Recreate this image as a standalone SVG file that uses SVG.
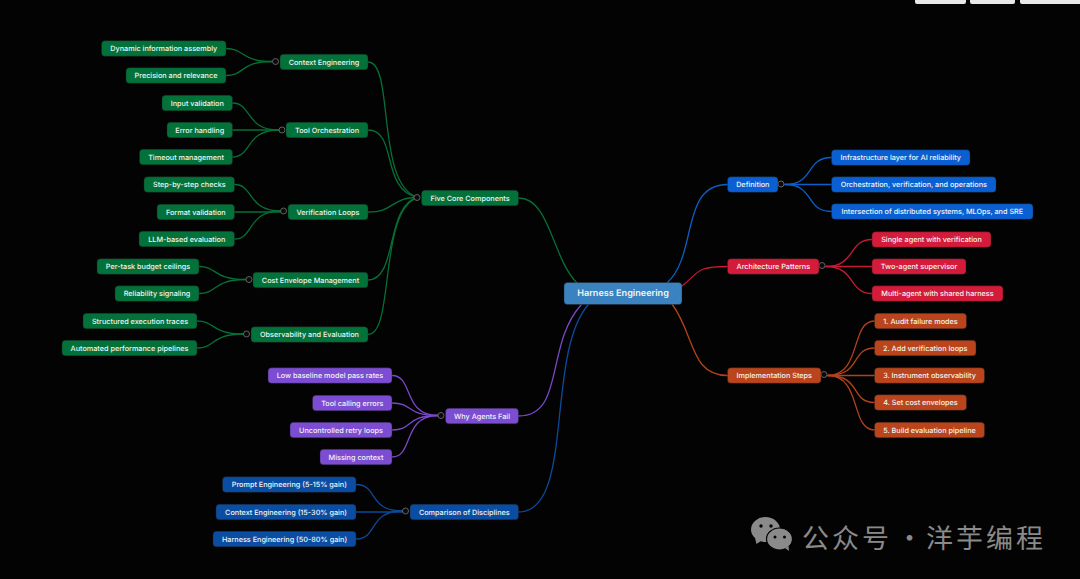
<svg xmlns="http://www.w3.org/2000/svg" width="1080" height="579" viewBox="0 0 1080 579">
<style>
text{font-family:Inter,"Liberation Sans",sans-serif;font-size:7.25px;font-weight:500;fill:#f2f5f2;text-anchor:middle;dominant-baseline:central;text-rendering:geometricPrecision}
rect.n{rx:3.5px;ry:3.5px;stroke:#222;stroke-width:.4px}
.hub{fill:#0a0a0a;stroke:#777;stroke-width:.8}
.l{fill:none;stroke-width:1.3;stroke-linecap:round}
.g{stroke:#067036}.gf{fill:#03713a}
.b{stroke:#0c5fc8}.bf{fill:#0a60d2}
.r{stroke:#c51a35}.rf{fill:#d41b3a}
.o{stroke:#b3421c}.of{fill:#ba441c}
.p{stroke:#7a48c8}.pf{fill:#7c4cd2}
.d{stroke:#0c4a9c}.df{fill:#0b4da2}
text.wm{font-family:"Noto Sans CJK SC",sans-serif;font-size:27px;font-weight:400;fill:#8a8a8a;text-anchor:start;letter-spacing:3px}
</style>
<rect width="1080" height="579" fill="#030303"/>
<g id="window-tabs" fill="#e8e8e8"><rect x="915" y="-6" width="51" height="10" rx="2"/><rect x="970" y="-6" width="45" height="10" rx="2"/><rect x="1020" y="-6" width="62" height="10" rx="2"/></g>
<g id="connectors">
<g class="l g">
<path d="M518.5 198C550 198 552 258 577 283"/>
<path d="M368 62C395 62 375 185 418 197.5"/>
<path d="M368 130C398 130 380 190 418 197.5"/>
<path d="M368 212C395 212 390 197.5 418 197.5"/>
<path d="M368 280C398 280 385 205 418 197.5"/>
<path d="M368 334.5C395 334.5 378 210 418 197.5"/>
<path d="M226 48.5C245 48.5 240 61.5 272 61.5"/>
<path d="M226 75.5C245 75.5 240 61.5 272 61.5"/>
<path d="M232.5 103C252 103 245 130 279 130"/>
<path d="M232.5 130H279"/>
<path d="M232.5 157C252 157 245 130 279 130"/>
<path d="M234.5 184.5C254 184.5 247 211 280.500 211"/>
<path d="M234.5 212H280.500"/>
<path d="M234.5 239C254 239 247 211 280.500 211"/>
<path d="M199 266.5C218 266.5 212 279.500 246 279.500"/>
<path d="M199 293.5C218 293.5 212 279.500 246 279.500"/>
<path d="M197 321C216 321 210 334 243.500 334"/>
<path d="M197 348C216 348 210 334 243.500 334"/>
</g>
<g class="l b">
<path d="M727.5 184.5C680 184.500 698 255 667 283"/>
<path d="M785 184.5C815 184.500 805 157.500 831.500 157.500"/>
<path d="M785 184.500H831.500"/>
<path d="M785 184.5C815 184.500 805 211.500 831.500 211.500"/>
</g>
<g class="l r">
<path d="M727.5 266.500C695 266.500 700 272 682 286"/>
<path d="M826 266.500C856 266.500 848 239.500 872 239.500"/>
<path d="M826 266.500H872"/>
<path d="M826 266.500C856 266.500 848 293.500 872 293.500"/>
</g>
<g class="l o">
<path d="M727.5 375.500C690 375.500 695 335 672 304"/>
<path d="M828 375.500C862 375.500 850 321 874.500 321"/>
<path d="M828 375.500C862 375.500 850 348 874.500 348"/>
<path d="M828 375.500H874.500"/>
<path d="M828 375.500C862 375.500 850 402.500 874.500 402.500"/>
<path d="M828 375.500C862 375.500 850 430 874.500 430"/>
</g>
<g class="l p">
<path d="M518.5 416C565 416 545 345 581 305"/>
<path d="M392 375.500C414 375.500 402 415.500 438 415.500"/>
<path d="M392 403C414 403 405 415.500 438 415.500"/>
<path d="M392 430C414 430 405 415.500 438 415.500"/>
<path d="M392 457C414 457 402 415.500 438 415.500"/>
</g>
<g class="l d">
<path d="M518.5 512C575 512 545 355 588 305"/>
<path d="M356 484.500C378 484.500 368 511 402.500 511"/>
<path d="M356 512H402.500"/>
<path d="M356 539C378 539 368 511 402.500 511"/>
</g>
</g>
<g id="hubs">
<circle class="hub" cx="275.500" cy="61.500" r="3"/><circle class="hub" cx="282" cy="130" r="3"/><circle class="hub" cx="283.500" cy="211" r="3"/><circle class="hub" cx="249" cy="279.500" r="3"/><circle class="hub" cx="246.500" cy="334" r="3"/><circle class="hub" cx="417" cy="197.500" r="3"/><circle class="hub" cx="441" cy="415.500" r="3"/><circle class="hub" cx="405.500" cy="511" r="3"/><circle class="hub" cx="781" cy="184" r="3"/><circle class="hub" cx="822" cy="265.500" r="3"/><circle class="hub" cx="824" cy="374.500" r="3"/>
</g>
<g id="root"><rect class="n" x="564" y="282.500" width="118" height="22" fill="#3b82c0"/><text x="623" y="293.500" style="font-size:9.1px;font-weight:600">Harness Engineering</text></g>
<g id="n1"><rect class="n gf" x="421.500" y="190.300" width="97" height="15.500"/><text x="470" y="198">Five Core Components</text></g>
<g id="n2"><rect class="n gf" x="280" y="54.200" width="88" height="15.500"/><text x="324" y="62">Context Engineering</text></g>
<g id="n3"><rect class="n gf" x="101.500" y="40.700" width="124.500" height="15.500"/><text x="163.800" y="48.500">Dynamic information assembly</text></g>
<g id="n4"><rect class="n gf" x="126" y="67.700" width="100" height="15.500"/><text x="176" y="75.500">Precision and relevance</text></g>
<g id="n5"><rect class="n gf" x="286" y="122.300" width="82" height="15.500"/><text x="327" y="130">Tool Orchestration</text></g>
<g id="n6"><rect class="n gf" x="162" y="95.300" width="70.500" height="15.500"/><text x="197.300" y="103">Input validation</text></g>
<g id="n7"><rect class="n gf" x="167" y="122.300" width="65.500" height="15.500"/><text x="199.800" y="130">Error handling</text></g>
<g id="n8"><rect class="n gf" x="139.500" y="149.300" width="93" height="15.500"/><text x="186" y="157">Timeout management</text></g>
<g id="n9"><rect class="n gf" x="288" y="204.300" width="80" height="15.500"/><text x="328" y="212">Verification Loops</text></g>
<g id="n10"><rect class="n gf" x="144" y="176.800" width="90.500" height="15.500"/><text x="189.300" y="184.500">Step-by-step checks</text></g>
<g id="n11"><rect class="n gf" x="157" y="204.300" width="77.500" height="15.500"/><text x="195.800" y="212">Format validation</text></g>
<g id="n12"><rect class="n gf" x="139" y="231.300" width="95.500" height="15.500"/><text x="186.800" y="239">LLM-based evaluation</text></g>
<g id="n13"><rect class="n gf" x="253" y="272.300" width="115" height="15.500"/><text x="310.500" y="280">Cost Envelope Management</text></g>
<g id="n14"><rect class="n gf" x="97" y="258.800" width="102" height="15.500"/><text x="148" y="266.500">Per-task budget ceilings</text></g>
<g id="n15"><rect class="n gf" x="115" y="285.800" width="84" height="15.500"/><text x="157" y="293.500">Reliability signaling</text></g>
<g id="n16"><rect class="n gf" x="251" y="326.800" width="117" height="15.500"/><text x="309.500" y="334.500">Observability and Evaluation</text></g>
<g id="n17"><rect class="n gf" x="83" y="313.300" width="114" height="15.500"/><text x="140" y="321">Structured execution traces</text></g>
<g id="n18"><rect class="n gf" x="62" y="340.300" width="135" height="15.500"/><text x="129.500" y="348">Automated performance pipelines</text></g>
<g id="n19"><rect class="n pf" x="445.500" y="408.300" width="73" height="15.500"/><text x="482" y="416">Why Agents Fail</text></g>
<g id="n20"><rect class="n pf" x="268" y="367.800" width="124" height="15.500"/><text x="330" y="375.500">Low baseline model pass rates</text></g>
<g id="n21"><rect class="n pf" x="312.500" y="395.300" width="79.500" height="15.500"/><text x="352.300" y="403">Tool calling errors</text></g>
<g id="n22"><rect class="n pf" x="290" y="422.300" width="102" height="15.500"/><text x="341" y="430">Uncontrolled retry loops</text></g>
<g id="n23"><rect class="n pf" x="320" y="449.300" width="72" height="15.500"/><text x="356" y="457">Missing context</text></g>
<g id="n24"><rect class="n df" x="410" y="504.300" width="108.500" height="15.500"/><text x="464.300" y="512">Comparison of Disciplines</text></g>
<g id="n25"><rect class="n df" x="222.500" y="476.800" width="133.500" height="15.500"/><text x="289.300" y="484.500">Prompt Engineering (5-15% gain)</text></g>
<g id="n26"><rect class="n df" x="216" y="504.300" width="140" height="15.500"/><text x="286" y="512">Context Engineering (15-30% gain)</text></g>
<g id="n27"><rect class="n df" x="213" y="531.300" width="143" height="15.500"/><text x="284.500" y="539">Harness Engineering (50-80% gain)</text></g>
<g id="n28"><rect class="n bf" x="727.500" y="176.800" width="50.500" height="15.500"/><text x="752.800" y="184.500">Definition</text></g>
<g id="n29"><rect class="n bf" x="831.500" y="149.800" width="138.500" height="15.500"/><text x="900.800" y="157.500">Infrastructure layer for AI reliability</text></g>
<g id="n30"><rect class="n bf" x="831.500" y="176.800" width="164.500" height="15.500"/><text x="913.800" y="184.500">Orchestration, verification, and operations</text></g>
<g id="n31"><rect class="n bf" x="831.500" y="203.800" width="201.500" height="15.500"/><text x="932.300" y="211.500">Intersection of distributed systems, MLOps, and SRE</text></g>
<g id="n32"><rect class="n rf" x="727.500" y="258.800" width="91.500" height="15.500"/><text x="773.300" y="266.500">Architecture Patterns</text></g>
<g id="n33"><rect class="n rf" x="872" y="231.800" width="119" height="15.500"/><text x="931.500" y="239.500">Single agent with verification</text></g>
<g id="n34"><rect class="n rf" x="872" y="258.800" width="94" height="15.500"/><text x="919" y="266.500">Two-agent supervisor</text></g>
<g id="n35"><rect class="n rf" x="872" y="285.800" width="131" height="15.500"/><text x="937.500" y="293.500">Multi-agent with shared harness</text></g>
<g id="n36"><rect class="n of" x="727.500" y="367.800" width="93.500" height="15.500"/><text x="774.300" y="375.500">Implementation Steps</text></g>
<g id="n37"><rect class="n of" x="874.500" y="313.300" width="92" height="15.500"/><text x="920.500" y="321">1. Audit failure modes</text></g>
<g id="n38"><rect class="n of" x="874.500" y="340.300" width="101.500" height="15.500"/><text x="925.300" y="348">2. Add verification loops</text></g>
<g id="n39"><rect class="n of" x="874.500" y="367.800" width="110" height="15.500"/><text x="929.500" y="375.500">3. Instrument observability</text></g>
<g id="n40"><rect class="n of" x="874.500" y="394.800" width="92" height="15.500"/><text x="920.500" y="402.500">4. Set cost envelopes</text></g>
<g id="n41"><rect class="n of" x="874.500" y="422.300" width="110" height="15.500"/><text x="929.500" y="430">5. Build evaluation pipeline</text></g>
<g id="watermark">
<ellipse cx="765.500" cy="529.500" rx="14.500" ry="12.500" fill="#8a8a8a"/>
<path d="M755 538l1.500 6 6-4z" fill="#8a8a8a"/>
<ellipse cx="779.500" cy="539" rx="13" ry="11" fill="#8a8a8a" stroke="#030303" stroke-width="1.200"/>
<path d="M785 548l4 3-.5-5z" fill="#8a8a8a"/>
<circle cx="761" cy="526" r="1.700" fill="#030303"/><circle cx="771" cy="526" r="1.700" fill="#030303"/><circle cx="775" cy="537" r="1.500" fill="#030303"/><circle cx="784.500" cy="537" r="1.500" fill="#030303"/>
<text class="wm" x="802" y="535.500"><tspan>公众号</tspan><tspan x="896">·</tspan><tspan x="926">洋芋编程</tspan></text>
</g>
</svg>
